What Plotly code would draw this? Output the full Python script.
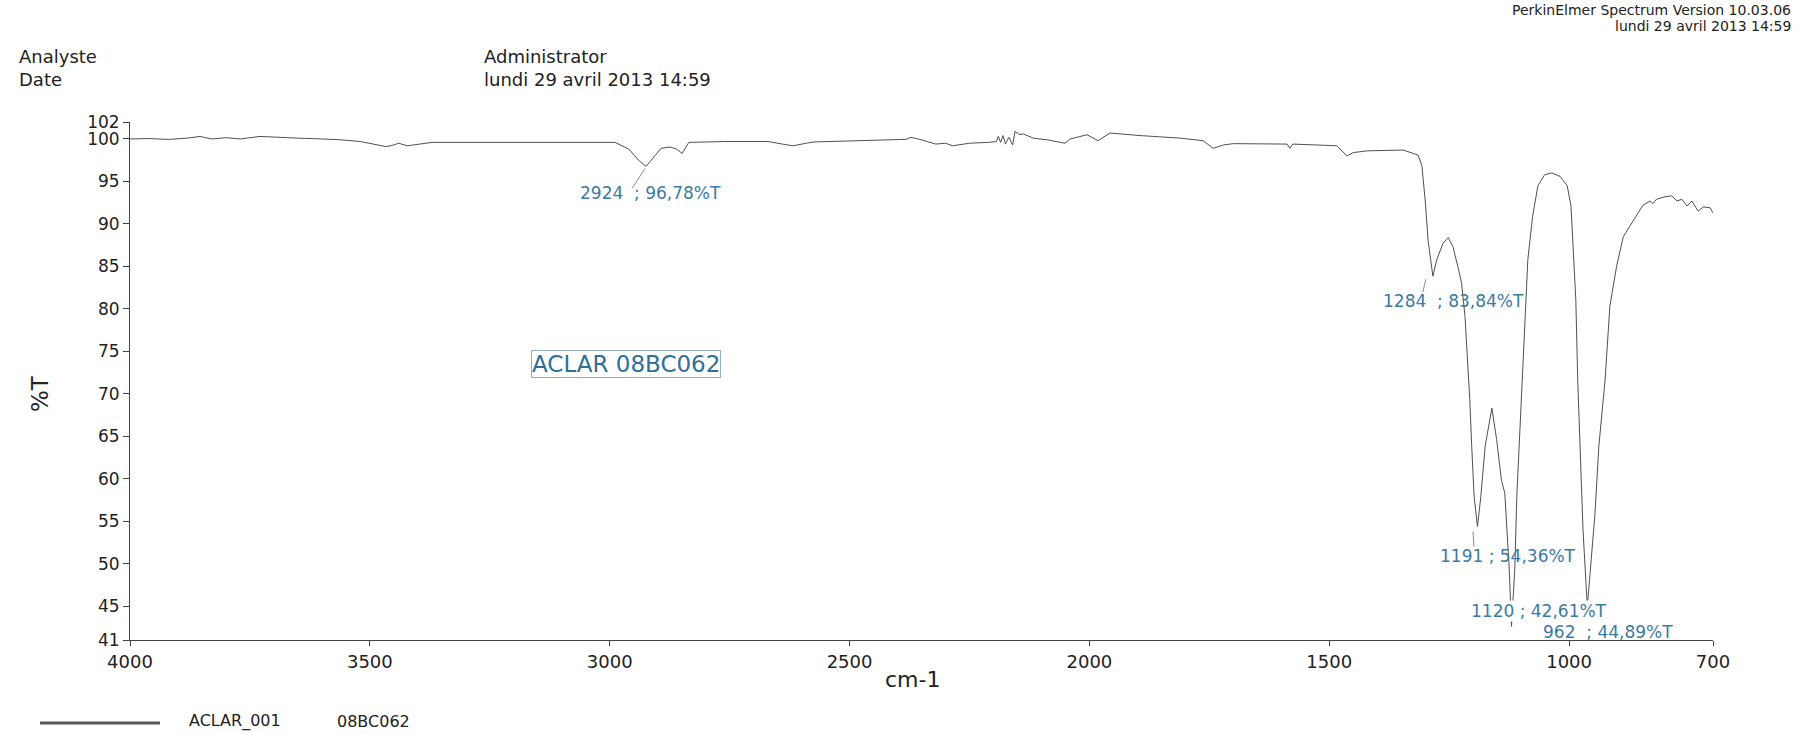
import plotly.graph_objects as go

# IR spectrum (wavenumber in cm-1, transmittance in %T)
wavenumber = [
    4000, 3960, 3920, 3880, 3854, 3830, 3800, 3770, 3729, 3700, 3650, 3600,
    3560, 3520, 3490, 3466, 3450, 3440, 3422, 3400, 3370, 3300, 3229, 3100,
    2989, 2960, 2940, 2924, 2910, 2893, 2874, 2860, 2849, 2840, 2835, 2760,
    2670, 2640, 2618, 2590, 2574, 2480, 2382, 2372, 2350, 2320, 2300, 2285,
    2250, 2210, 2194, 2190, 2185, 2180, 2175, 2168, 2160, 2155, 2145, 2138,
    2117, 2088, 2051, 2040, 2005, 1982, 1957, 1894, 1811, 1763, 1742, 1720,
    1700, 1588, 1582, 1576, 1513, 1484, 1463, 1450, 1421, 1353, 1346, 1325,
    1315, 1307, 1300, 1294, 1284, 1276, 1263, 1252, 1242, 1232, 1224, 1217,
    1211, 1207, 1203, 1198, 1191, 1184, 1175, 1161, 1151, 1141, 1134, 1129,
    1125, 1120, 1113, 1109, 1103, 1097, 1092, 1086, 1076, 1065, 1051, 1036,
    1019, 1004, 996, 992, 986, 982, 977, 971, 962, 955, 946, 938,
    925, 915, 901, 887, 873, 856, 846, 831, 825, 818, 800, 786,
    775, 765, 754, 744, 731, 720, 706, 700,
]
transmittance = [
    100.0, 100.05, 99.95, 100.1, 100.3, 100.0, 100.15, 100.0, 100.3, 100.2, 100.1, 100.0,
    99.9, 99.7, 99.4, 99.1, 99.3, 99.5, 99.2, 99.4, 99.6, 99.6, 99.6, 99.6,
    99.6, 98.8, 97.5, 96.78, 97.8, 98.9, 99.05, 98.8, 98.3, 99.2, 99.6, 99.7,
    99.7, 99.4, 99.2, 99.5, 99.65, 99.8, 99.96, 100.2, 99.9, 99.4, 99.5, 99.2,
    99.5, 99.6, 99.7, 100.3, 99.6, 100.4, 99.4, 100.2, 99.3, 100.9, 100.5, 100.6,
    100.1, 99.9, 99.5, 100.0, 100.5, 99.8, 100.7, 100.4, 100.1, 99.8, 98.9, 99.3,
    99.45, 99.4, 98.9, 99.4, 99.3, 99.2, 98.0, 98.4, 98.6, 98.7, 98.7, 98.3,
    98.1, 96.9, 92.8, 88.1, 83.84, 85.76, 87.7, 88.4, 87.3, 85.0, 83.0, 79.1,
    73.2, 69.3, 63.8, 57.9, 54.36, 57.9, 63.8, 68.3, 64.6, 59.8, 58.3, 54.0,
    49.6, 42.61, 49.6, 57.9, 65.7, 71.6, 79.1, 85.8, 90.9, 94.5, 95.8, 96.0,
    95.6, 94.5, 92.1, 88.1, 81.1, 71.6, 63.8, 54.0, 44.89, 50.0, 55.9, 63.8,
    71.6, 80.3, 85.0, 88.5, 89.7, 91.3, 92.2, 92.7, 92.4, 92.9, 93.2, 93.3,
    92.7, 92.9, 92.1, 92.7, 91.5, 92.0, 91.9, 91.3,
]

# Labelled peaks
peak_wn = [2924, 1284, 1191, 1120, 962]
peak_t = [96.78, 83.84, 54.36, 42.61, 44.89]
peak_labels = [
    "2924\u00a0\u00a0; 96,78%T",
    "1284\u00a0\u00a0; 83,84%T",
    "1191 ; 54,36%T",
    "1120 ; 42,61%T",
    "962\u00a0\u00a0; 44,89%T",
]

x_tick_vals = [4000, 3500, 3000, 2500, 2000, 1500, 1000, 700]
y_tick_vals = [41, 45, 50, 55, 60, 65, 70, 75, 80, 85, 90, 95, 100, 102]

sample_name = "ACLAR 08BC062"
legend_file = "ACLAR_001"
legend_sample = "08BC062"
analyst = "Administrator"
run_date = "lundi 29 avril 2013 14:59"
software = "PerkinElmer Spectrum Version 10.03.06"

# ---- page geometry ----
W, H = 1798, 735
ML, MR, MT, MB = 130, 85, 122, 95
PW, PH = W - ML - MR, H - MT - MB

def px(x):
    return (x - ML) / PW

def py(y):
    return (H - MB - y) / PH

FONT = "DejaVu Sans"
INK = "#222222"
BLUE = "#3a7aa3"

fig = go.Figure()
fig.add_trace(go.Scatter(
    x=wavenumber, y=transmittance, mode="lines",
    line=dict(color="#505050", width=1), showlegend=False,
    hoverinfo="x+y",
))

# label offsets from each peak (pixels) and leader segments
label_shift = [(4.5, -26.5), (20.5, -25), (31, -29), (27.5, 15), (21, -25.4)]
label_bg = [None, None, None, "white", None]
leaders = [(-1, -2, -14, -22), (-7, -3, -10, -16), (-4.5, -5, -3.5, -20), None, (-4, -4.5, -11, -14.5)]

annotations = []
shapes = []
for wn, t, txt, (dx, dy), bg, ld in zip(peak_wn, peak_t, peak_labels, label_shift, label_bg, leaders):
    annotations.append(dict(
        x=wn, y=t, xref="x", yref="y", text=txt, showarrow=False,
        xshift=dx, yshift=dy, xanchor="center", yanchor="middle",
        font=dict(family=FONT, size=17, color=BLUE),
        bgcolor=bg if bg else "rgba(0,0,0,0)", borderpad=0,
    ))
    if ld:
        shapes.append(dict(
            type="line", xref="x", yref="y",
            xsizemode="pixel", ysizemode="pixel",
            xanchor=wn, yanchor=t,
            x0=ld[0], y0=ld[1], x1=ld[2], y1=ld[3],
            line=dict(color="#8c8c8c", width=1),
        ))

# sample name box
annotations.append(dict(
    x=2967, y=73.5, xref="x", yref="y", text=sample_name, showarrow=False,
    font=dict(family=FONT, size=23, color="#2f6f98"),
    bordercolor="#8fb0c8", borderwidth=1, borderpad=0, bgcolor="white",
))

# page header
def page_text(text, x, y, size, anchor="left", color=INK):
    annotations.append(dict(
        x=px(x), y=py(y), xref="paper", yref="paper", text=text, showarrow=False,
        xanchor=anchor, yanchor="middle", font=dict(family=FONT, size=size, color=color),
    ))

page_text("Analyste", 17, 57, 18)
page_text("Date", 17, 80, 18)
page_text(analyst, 482, 57, 18)
page_text(run_date, 482, 80, 18)
page_text(software, 1793, 10, 14, anchor="right")
page_text(run_date, 1793, 26, 14, anchor="right")

# axis titles
annotations.append(dict(
    x=px(40), y=py(394), xref="paper", yref="paper", text="%T", showarrow=False,
    textangle=-90, xanchor="center", yanchor="middle",
    font=dict(family=FONT, size=23, color=INK),
))
page_text("cm-1", 912, 679, 22, anchor="center")

# legend row
shapes.append(dict(
    type="line", xref="paper", yref="paper",
    x0=px(40), x1=px(160), y0=py(723), y1=py(723),
    line=dict(color="#555555", width=3),
))
page_text(legend_file, 187, 721, 16)
page_text(legend_sample, 335, 721, 16)

fig.update_layout(
    width=W, height=H,
    margin=dict(l=ML, r=MR, t=MT, b=MB, pad=0),
    paper_bgcolor="white", plot_bgcolor="white",
    annotations=annotations, shapes=shapes,
    xaxis=dict(
        range=[4000, 700], autorange=False, tickvals=x_tick_vals,
        ticks="outside", ticklen=5, tickcolor="#444", tickwidth=1,
        showline=True, linecolor="#444", linewidth=1, mirror=False,
        showgrid=False, zeroline=False,
        tickfont=dict(family=FONT, size=18, color=INK),
    ),
    yaxis=dict(
        range=[41, 102], autorange=False, tickvals=y_tick_vals,
        ticks="outside", ticklen=6, tickcolor="#444", tickwidth=1,
        showline=True, linecolor="#444", linewidth=1, mirror=False,
        showgrid=False, zeroline=False,
        tickfont=dict(family=FONT, size=17, color=INK),
    ),
    showlegend=False,
)

fig.write_html("out.html")
